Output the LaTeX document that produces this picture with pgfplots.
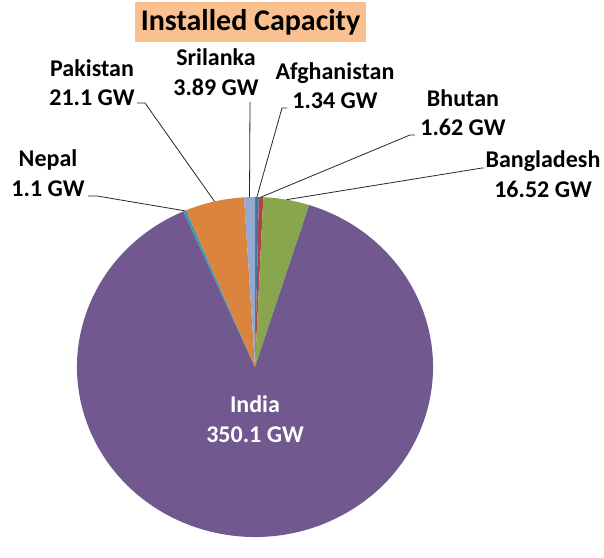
\documentclass[border=0pt]{standalone}
\usepackage{pgfplots}
\usepackage{pgfplotstable}
\pgfplotsset{compat=1.18}
\usepackage{fontspec}
\setmainfont{Carlito}

\definecolor{cA}{HTML}{4572A7}
\definecolor{cB}{HTML}{AA4643}
\definecolor{cC}{HTML}{89A54E}
\definecolor{cD}{HTML}{71588F}
\definecolor{cE}{HTML}{4198AF}
\definecolor{cF}{HTML}{DB843D}
\definecolor{cG}{HTML}{93A9CF}
\definecolor{titlefill}{HTML}{FAC08F}

% capacity in GW, slice colour, label centre, leader elbow (picture coords, 1 unit = 1pt)
\pgfplotstableread{
name        val    col lx  ly    hx  ex  ey
Afghanistan 1.34   cA  335 453.5 287 282 431
Bhutan      1.62   cB  463 426.5 415 410 404
Bangladesh  16.52  cC  543 365   484 482 371
India       350.1  cD  255 120   0   0   0
Nepal       1.1    cE  48  366   88  97  343
Pakistan    21.1   cF  92  456.5 137 145 436
Srilanka    3.89   cG  216 467   250 250 437
}\piedata

\newcommand\tot{395.67}
\newcommand\cx{255}
\newcommand\cy{172}
\newcommand\rx{178}
\newcommand\ry{170}

\begin{document}
\begin{tikzpicture}[
    lbl/.style={font=\fontsize{24}{29.5}\selectfont\bfseries, align=center, inner sep=0pt},
    leader/.style={draw=black!85, line width=0.8pt},
]
\begin{axis}[
    hide axis,
    scale only axis,
    width=604pt, height=539pt,
    xmin=0, xmax=604, ymin=0, ymax=539,
    enlargelimits=false,
    clip=false,
]
\path (axis cs:0,0) rectangle (axis cs:604,539);
\pgfmathsetmacro\cum{0}
\pgfplotsforeachungrouped \i in {0,...,6}{%
  \pgfplotstablegetelem{\i}{val}\of\piedata \let\v\pgfplotsretval
  \pgfplotstablegetelem{\i}{col}\of\piedata \let\c\pgfplotsretval
  \pgfmathsetmacro\aS{90-\cum/\tot*360}
  \pgfmathsetmacro\cumN{\cum+\v}
  \pgfmathsetmacro\aE{90-\cumN/\tot*360}
  \pgfmathsetmacro\sx{\cx+\rx*cos(\aS)}
  \pgfmathsetmacro\sy{\cy+\ry*sin(\aS)}
  \edef\cmd{\noexpand\fill[\c] (axis cs:\cx,\cy) -- (axis cs:\sx,\sy)
    arc[start angle=\aS, end angle=\aE, x radius=\rx pt, y radius=\ry pt] -- cycle;}
  \cmd
  \let\cum\cumN
}
\pgfmathsetmacro\cum{0}
\pgfplotsforeachungrouped \i in {0,...,6}{%
  \pgfplotstablegetelem{\i}{name}\of\piedata \let\n\pgfplotsretval
  \pgfplotstablegetelem{\i}{val}\of\piedata \let\v\pgfplotsretval
  \pgfplotstablegetelem{\i}{lx}\of\piedata \let\lx\pgfplotsretval
  \pgfplotstablegetelem{\i}{ly}\of\piedata \let\ly\pgfplotsretval
  \pgfplotstablegetelem{\i}{hx}\of\piedata \let\hx\pgfplotsretval
  \pgfplotstablegetelem{\i}{ex}\of\piedata \let\ex\pgfplotsretval
  \pgfplotstablegetelem{\i}{ey}\of\piedata \let\ey\pgfplotsretval
  \pgfmathsetmacro\cumN{\cum+\v}
  \pgfmathsetmacro\aM{90-(\cum/\tot+\cumN/\tot)*180}
  \pgfmathsetmacro\mx{\cx+\rx*cos(\aM)}
  \pgfmathsetmacro\my{\cy+\ry*sin(\aM)}
  \ifnum\i=3
    \edef\cmd{\noexpand\node[lbl, text=white] at (axis cs:\lx,\ly) {\n\noexpand\\\v\space GW};}
  \else
    \edef\cmd{\noexpand\draw[leader] (axis cs:\hx,\ey) -- (axis cs:\ex,\ey) -- (axis cs:\mx,\my);
      \noexpand\node[lbl] at (axis cs:\lx,\ly) {\n\noexpand\\\v\space GW};}
  \fi
  \cmd
  \let\cum\cumN
}
\node[fill=titlefill, minimum width=231pt, minimum height=40pt, inner sep=0pt,
      font=\fontsize{30}{34}\selectfont\bfseries] at (axis cs:250.5,517) {Installed Capacity};
\end{axis}
\end{tikzpicture}
\end{document}
